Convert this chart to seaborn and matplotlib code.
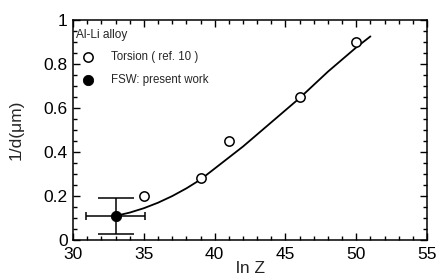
import numpy as np
import pandas as pd
import matplotlib
matplotlib.use("Agg")
import matplotlib.pyplot as plt
from matplotlib.ticker import MultipleLocator
import seaborn as sns

# Torsion data (ref. 10)
torsion_lnz = [35, 39, 41, 46, 50]
torsion_inv_d = [0.20, 0.28, 0.45, 0.65, 0.90]

# FSW: present work
fsw_lnz = [33]
fsw_inv_d = [0.11]
fsw_xerr = [2.1]
fsw_yerr = [0.08]

# fitted curve
curve_lnz = [33, 34, 35, 36, 37, 38, 39, 40, 41, 42, 43, 44, 45, 46, 47,
             48, 49, 50, 51]
curve_inv_d = [0.11, 0.125, 0.145, 0.17, 0.2, 0.235, 0.275, 0.325, 0.375,
               0.425, 0.48, 0.535, 0.59, 0.645, 0.705, 0.765, 0.82, 0.875,
               0.925]

sns.set_style("ticks")
plt.rcParams["font.family"] = ["Liberation Sans", "DejaVu Sans"]

fig = plt.figure(figsize=(4.38, 2.76), dpi=100)
ax = fig.add_axes([0.167, 0.13, 0.808, 0.798])

sns.lineplot(x=curve_lnz, y=curve_inv_d, ax=ax, color="black", linewidth=1.3,
             sort=True, estimator=None)

ax.errorbar(fsw_lnz, fsw_inv_d, yerr=fsw_yerr, fmt="none", ecolor="black",
            elinewidth=1.1, capsize=13, capthick=1.1)
ax.errorbar(fsw_lnz, fsw_inv_d, xerr=fsw_xerr, fmt="none", ecolor="black",
            elinewidth=1.1, capsize=3, capthick=1.1)

sns.scatterplot(x=torsion_lnz, y=torsion_inv_d, ax=ax, marker="o", s=45,
                facecolor="white", edgecolor="black", linewidth=1.1,
                label="Torsion ( ref. 10 )", zorder=5)
sns.scatterplot(x=fsw_lnz, y=fsw_inv_d, ax=ax, marker="o", s=55,
                color="black", edgecolor="black", label="FSW: present work",
                zorder=6)

ax.set_xlim(30, 55)
ax.set_ylim(0, 1)
ax.xaxis.set_major_locator(MultipleLocator(5))
ax.xaxis.set_minor_locator(MultipleLocator(1))
ax.yaxis.set_minor_locator(MultipleLocator(0.05))
ax.set_yticks([0, 0.2, 0.4, 0.6, 0.8, 1])
ax.set_yticklabels(["0", "0.2", "0.4", "0.6", "0.8", "1"])

ax.tick_params(which="both", direction="in", top=True, right=True,
               labelsize=12.5, width=1, colors="black")
ax.tick_params(axis="x", pad=5)
ax.tick_params(axis="y", pad=4)
ax.tick_params(which="major", length=5)
ax.tick_params(which="minor", length=3)
for s in ax.spines.values():
    s.set_linewidth(1.1)
    s.set_color("black")

ax.set_xlabel("ln Z", fontsize=12.5, labelpad=-1)
ax.set_ylabel("1/d(\u03bcm)", fontsize=12.5, labelpad=14)

ax.text(0.008, 0.93, "Al-Li alloy", transform=ax.transAxes, fontsize=8.6,
        va="center", ha="left")
ax.legend(loc="upper left", bbox_to_anchor=(-0.01, 0.89), frameon=False,
          fontsize=8.3, handletextpad=1.0, labelspacing=0.95,
          borderaxespad=0.2)

fig.savefig("out.png", dpi=100)
